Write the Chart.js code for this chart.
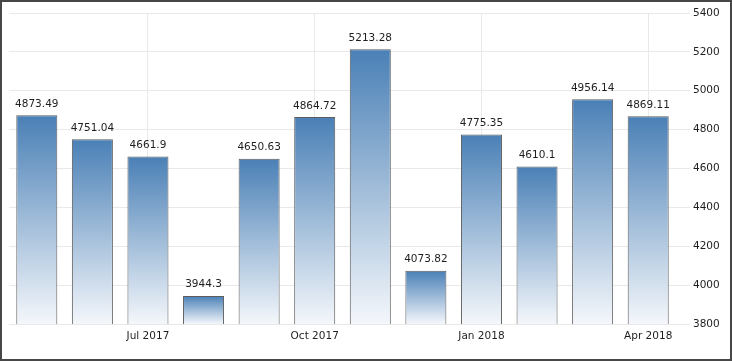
<!DOCTYPE html>
<html>
<head>
<meta charset="utf-8">
<script src="https://cdn.jsdelivr.net/npm/chart.js@4/dist/chart.umd.min.js"></script>
<style>
  html, body { margin: 0; padding: 0; background: #fff; }
  #frame { width: 732px; height: 361px; box-sizing: border-box; border: 2px solid #474747; position: relative; background: #fff; }
  #wrap { width: 728px; height: 357px; position: relative; }
</style>
</head>
<body>
<div id="frame"><div id="wrap"><canvas id="c"></canvas></div></div>
<script>
const categories = ["May 2017","Jun 2017","Jul 2017","Aug 2017","Sep 2017","Oct 2017","Nov 2017","Dec 2017","Jan 2018","Feb 2018","Mar 2018","Apr 2018"];
const values = [4873.49, 4751.04, 4661.9, 3944.3, 4650.63, 4864.72, 5213.28, 4073.82, 4775.35, 4610.1, 4956.14, 4869.11];
const valueLabels = ["4873.49","4751.04","4661.9","3944.3","4650.63","4864.72","5213.28","4073.82","4775.35","4610.1","4956.14","4869.11"];
const shownXTicks = ["Jul 2017","Oct 2017","Jan 2018","Apr 2018"];
const yMin = 3800, yMax = 5400, yStep = 200;

const FONT = "'DejaVu Sans', Verdana, sans-serif";
const TOP_COLOR = "#4a80b6";
const BOTTOM_COLOR = "#f4f7fb";

function barGradient(ctx) {
  const chart = ctx.chart;
  const area = chart.chartArea;
  if (!area || ctx.type !== 'data' || !chart.scales.y) return TOP_COLOR;
  const top = chart.scales.y.getPixelForValue(ctx.raw);
  const g = chart.ctx.createLinearGradient(0, top, 0, area.bottom);
  g.addColorStop(0, TOP_COLOR);
  g.addColorStop(1, BOTTOM_COLOR);
  return g;
}

const valueLabelPlugin = {
  id: 'valueLabels',
  afterDatasetsDraw(chart) {
    const c = chart.ctx;
    const meta = chart.getDatasetMeta(0);
    c.save();
    c.font = "10.5px " + FONT;
    c.fillStyle = "#1e1e1e";
    c.textAlign = "center";
    c.textBaseline = "bottom";
    meta.data.forEach((bar, i) => {
      c.fillText(valueLabels[i], bar.x, bar.y - 6);
    });
    c.restore();
  }
};

new Chart(document.getElementById('c'), {
  type: 'bar',
  data: {
    labels: categories,
    datasets: [{
      data: values,
      backgroundColor: barGradient,
      borderColor: "#5c5c5c",
      borderWidth: 1,
      borderSkipped: false,
      categoryPercentage: 1.0,
      barPercentage: 0.738
    }]
  },
  options: {
    responsive: true,
    maintainAspectRatio: false,
    animation: false,
    layout: { padding: { top: 11, left: 7, right: 0, bottom: 0 } },
    plugins: { legend: { display: false }, tooltip: { enabled: false } },
    scales: {
      x: {
        offset: true,
        grid: { offset: false, color: "#e9e9e9", lineWidth: 1, drawTicks: false },
        border: { display: false },
        ticks: {
          autoSkip: false,
          maxRotation: 0,
          padding: 6,
          color: "#1e1e1e",
          font: { family: FONT, size: 10.5 },
          callback: function(v, i) {
            const l = categories[i];
            return shownXTicks.includes(l) ? l : null;
          }
        },
        afterFit: (s) => { s.height = 35; }
      },
      y: {
        position: 'right',
        min: yMin,
        max: yMax,
        grid: { color: "#e9e9e9", lineWidth: 1, tickLength: 14 },
        border: { display: false },
        ticks: {
          stepSize: yStep,
          padding: 3,
          color: "#1e1e1e",
          font: { family: FONT, size: 10.5 },
          callback: (v) => String(v)
        },
        afterFit: (s) => { s.width = 54; }
      }
    }
  },
  plugins: [valueLabelPlugin]
});
</script>
</body>
</html>
